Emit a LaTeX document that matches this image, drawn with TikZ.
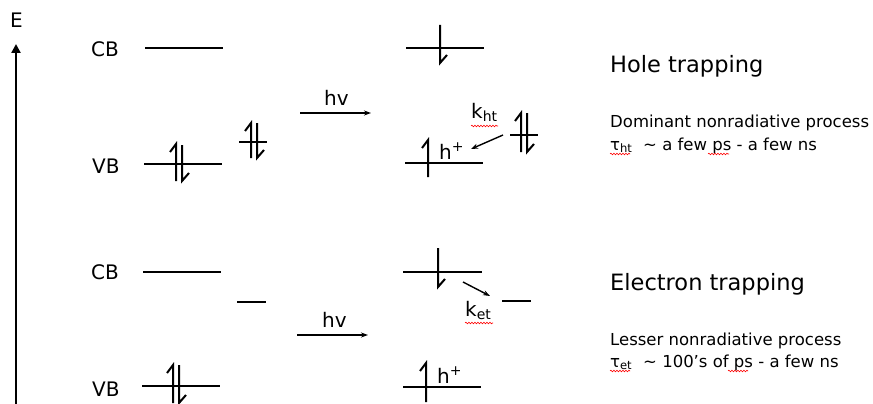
\documentclass[tikz,border=0pt]{standalone}
\usepackage{fontspec}
\setmainfont{DejaVu Sans}
\usetikzlibrary{arrows.meta,decorations.pathmorphing}
\newcommand\spinupx[3]{\draw[spin] (#1,#3) -- (#1,#2) -- ++(-6,8);}
\newcommand\spindownx[3]{\draw[spin] (#1,#2) -- (#1,#3) -- ++(7,-8);}
\begin{document}
\begin{tikzpicture}[x=1pt,y=-1pt,
  level/.style={line width=2.6pt},
  spin/.style={line width=2pt, line join=miter},
  lbl/.style={inner sep=0pt, anchor=base west, font=\fontsize{20}{24}\selectfont},
  ttl/.style={inner sep=0pt, anchor=base west, font=\fontsize{22.5}{27}\selectfont},
  body/.style={inner sep=0pt, anchor=base west, font=\fontsize{16.5}{20}\selectfont},
  photon/.style={line width=1.4pt, -{Stealth[length=7pt,width=5pt]}},
  rate/.style={line width=1.4pt, -{Stealth[length=7pt,width=5pt]}},
  spell/.style={red, line width=0.6pt, decorate, decoration={snake, segment length=3pt, amplitude=0.8pt}}]
\useasboundingbox (0,0) rectangle (873,404);
% energy axis
\coordinate (axb) at (16,404);
\coordinate (axt) at (16,44);
\draw[line width=2.4pt,-{Triangle[length=9pt,width=9pt]}] (axb) -- (axt);
\node[lbl] (E) at (10,28) {E};
% labels
\node[lbl] (cb1) at (91,57) {CB};
\node[lbl] (vb1) at (92,173) {VB};
\node[lbl] (cb2) at (91,279) {CB};
\node[lbl] (vb2) at (92,396) {VB};
% levels
\draw[level] (145,48) -- (223,48);
\draw[level] (144,164) -- (222,164);
\draw[level] (239,142) -- (267,142);
\draw[level] (406,48) -- (484,48);
\draw[level] (405,163) -- (483,163);
\draw[level] (510,135) -- (538,135);
\draw[level] (143,272) -- (221,272);
\draw[level] (237,302) -- (266,302);
\draw[level] (142,386) -- (220,386);
\draw[level] (403,272) -- (482,272);
\draw[level] (502,301) -- (531,301);
\draw[level] (403,387) -- (481,387);
% spins
\spinupx{176}{144}{181}\spindownx{182}{145}{181}
\spinupx{251}{123}{158}\spindownx{257}{123}{158}
\spindownx{440}{25}{63}
\spinupx{428}{140}{177}
\spinupx{521}{113}{152}\spindownx{527}{113}{152}
\spinupx{173}{365}{403}\spindownx{179}{365}{403}
\spindownx{438}{248}{287}
\spinupx{426}{363}{402}
% photons
\coordinate (hva) at (300,113);
\coordinate (hvb) at (371,113);
\draw[photon] (hva) -- (hvb);
\node[lbl] (hv1) at (324,105) {hv};
\coordinate (hvc) at (297,335);
\coordinate (hvd) at (368,335);
\draw[photon] (hvc) -- (hvd);
\node[lbl] (hv2) at (322,327) {hv};
% holes
\node[lbl] (hp1) at (439,159) {h\textsuperscript{+}};
\node[lbl] (hp2) at (437,383) {h\textsuperscript{+}};
% rates
\coordinate (kht1) at (503,135);
\coordinate (kht2) at (471,149);
\draw[rate] (kht1) -- (kht2);
\node[lbl] (kht) at (471,118) {k\textsubscript{ht}};
\coordinate (ket1) at (463,282);
\coordinate (ket2) at (490,296);
\draw[rate] (ket1) -- (ket2);
\node[lbl] (ket) at (465,316) {k\textsubscript{et}};
% right texts
\node[ttl] (t1) at (610,73) {Hole trapping};
\node[body] (d1) at (610,127) {Dominant nonradiative process};
\node[body] (tau1) at (610,150) {τ\textsubscript{ht}};
\node[body] (r1) at (643,150) {\textasciitilde{} a few ps - a few ns};
\node[ttl] (t2) at (610,290) {Electron trapping};
\node[body] (d2) at (610,345) {Lesser nonradiative process};
\node[body] (tau2) at (610,367) {τ\textsubscript{et}};
\node[body] (r2) at (643,367) {\textasciitilde{} 100’s of ps - a few ns};
% spell-check marks
\draw[spell] (471,126) -- (498,126);
\draw[spell] (465,323) -- (493,323);
\draw[spell] (610,154) -- (630,154);
\draw[spell] (708,154) -- (729,154);
\draw[spell] (610,371) -- (630,371);
\draw[spell] (728,371) -- (748,371);
\end{tikzpicture}
\end{document}
